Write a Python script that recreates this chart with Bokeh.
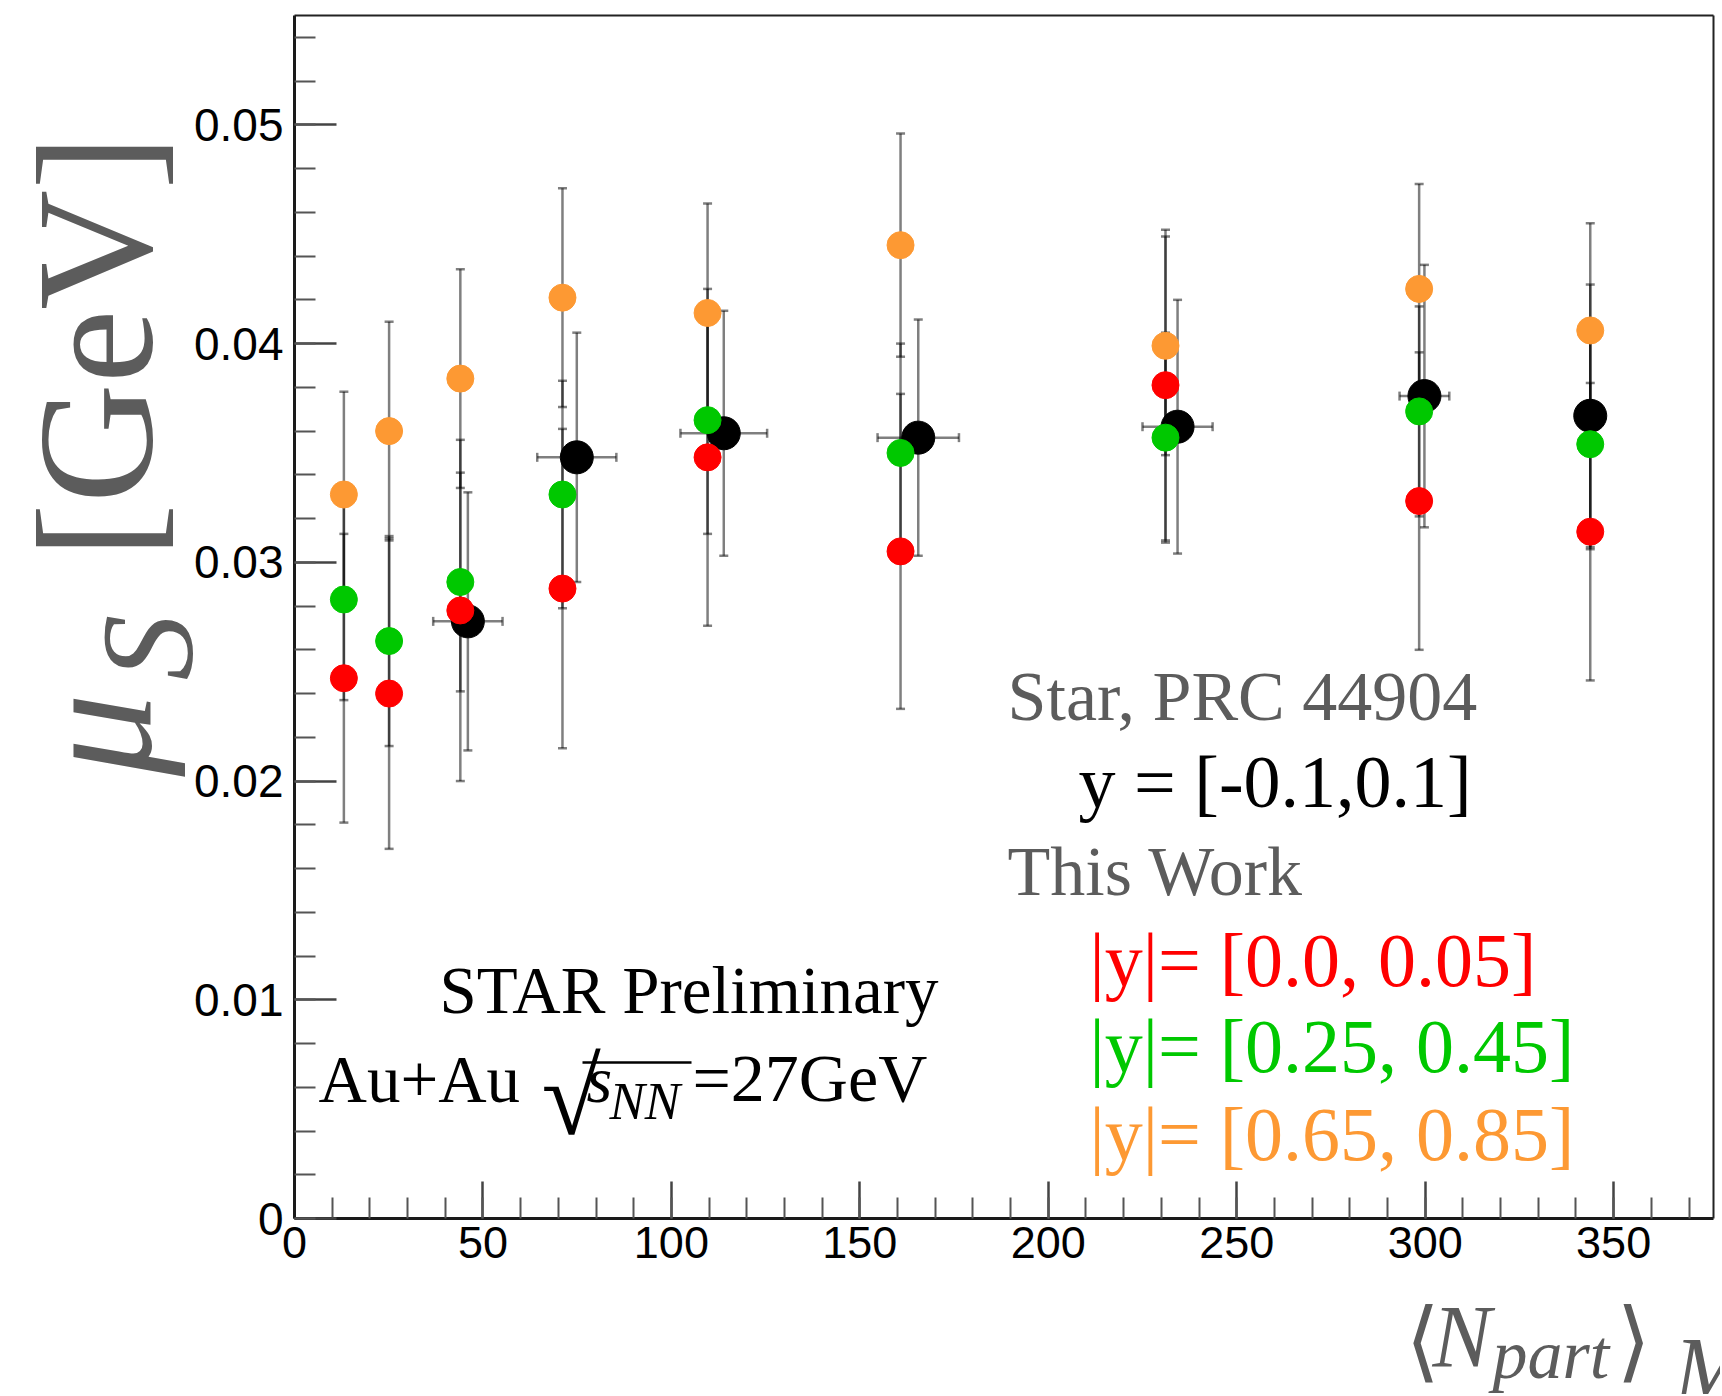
import numpy as np
from bokeh.plotting import figure
from bokeh.models import Range1d, FixedTicker, Whisker, TeeHead, ColumnDataSource, Label, LinearAxis
from bokeh.embed import file_html
from bokeh.resources import INLINE

# ---------------- data ----------------
# STAR, PRC 44904, y = [-0.1, 0.1]
npart_star = [46.0, 74.9, 113.9, 165.5, 234.3, 299.8, 343.8]
npart_star_err = [9.2, 10.5, 11.5, 10.8, 9.3, 6.6, 1.5]
mu_star = [0.0273, 0.0348, 0.0359, 0.0357, 0.0362, 0.0376, 0.0367]
mu_star_err = [0.0059, 0.0057, 0.0056, 0.0054, 0.0058, 0.0060, 0.0060]

# This Work
npart_work = [13.1, 25.1, 44.0, 71.1, 109.6, 160.8, 231.1, 298.4, 343.8]
mu_red = [0.0247, 0.0240, 0.0278, 0.0288, 0.0348, 0.0305, 0.0381, 0.0328, 0.0314]
mu_red_err = [0.0066, 0.0071, 0.0078, 0.0073, 0.0077, 0.0072, 0.0071, 0.0068, 0.0068]
mu_green = [0.0283, 0.0264, 0.0291, 0.0331, 0.0365, 0.0350, 0.0357, 0.0369, 0.0354]
mu_green_err = [0.0046, 0.0048, 0.0050, 0.0052, 0.0052, 0.0050, 0.0048, 0.0048, 0.0048]
mu_orange = [0.0331, 0.0360, 0.0384, 0.0421, 0.0414, 0.0445, 0.0399, 0.0425, 0.0406]
mu_orange_err = [0.0047, 0.0050, 0.0050, 0.0050, 0.0050, 0.0051, 0.0050, 0.0048, 0.0049]

x_ticks = [0, 50, 100, 150, 200, 250, 300, 350]
x_tick_labels = ["0", "50", "100", "150", "200", "250", "300", "350"]
y_ticks = [0, 0.01, 0.02, 0.03, 0.04, 0.05]
y_tick_labels = ["0", "0.01", "0.02", "0.03", "0.04", "0.05"]

series_labels = ["|y|= [0.0, 0.05]", "|y|= [0.25, 0.45]", "|y|= [0.65, 0.85]"]

# ---------------- style / geometry ----------------
RED, GREEN, ORANGE = "#ff0000", "#00c800", "#fd9933"
GRAY_TXT = "#5c5c5c"
W, H = 1720, 1394                          # canvas (page) size
FL, FR, FT, FB = 294, 1713, 15, 1218      # axis box edges in page pixels
X_MAX, Y_MAX = 376.5, 0.055


def dx(px):
    return (px - FL) / (FR - FL) * X_MAX


def dy(py):
    return (FB - py) / (FB - FT) * Y_MAX


p = figure(frame_width=W, frame_height=H,
           x_range=Range1d(dx(0), dx(W)), y_range=Range1d(dy(H), dy(0)),
           output_backend="svg", toolbar_location=None, min_border=0)
p.background_fill_color = "white"
p.border_fill_color = "white"
p.outline_line_color = None
p.xgrid.visible = False
p.ygrid.visible = False

xa = p.xaxis[0]
ya = p.yaxis[0]
xa.fixed_location = 0
ya.fixed_location = 0
xa.bounds = (0, X_MAX)
ya.bounds = (0, Y_MAX)
xa.ticker = FixedTicker(ticks=x_ticks, minor_ticks=list(range(0, 380, 10)))
xa.major_label_overrides = dict(zip(x_ticks, x_tick_labels))
ya.ticker = FixedTicker(ticks=y_ticks, minor_ticks=[round(0.002 * k, 3) for k in range(28)])
ya.major_label_overrides = dict(zip(y_ticks, y_tick_labels))

for ax in (xa, ya):
    ax.axis_line_width = 3
    ax.axis_line_color = "#1a1a1a"
    ax.major_tick_out = 0
    ax.minor_tick_out = 0
    ax.major_tick_line_color = "#444444"
    ax.major_tick_line_width = 2.5
    ax.minor_tick_line_color = "#555555"
    ax.minor_tick_line_width = 2
    ax.major_label_text_font = "Liberation Sans"
    ax.major_label_text_color = "black"
xa.major_label_text_font_size = "45px"
ya.major_label_text_font_size = "46px"
ya.major_tick_in = 42
ya.minor_tick_in = 21
xa.major_tick_in = 37
xa.minor_tick_in = 21
xa.major_label_standoff = 8
ya.major_label_standoff = 11

# top and right edges of the box (axes without ticks)
top_ax = LinearAxis(fixed_location=Y_MAX, bounds=(0, X_MAX), ticker=FixedTicker(ticks=[]),
                    axis_line_width=2, axis_line_color="#222222")
right_ax = LinearAxis(fixed_location=X_MAX, bounds=(0, Y_MAX), ticker=FixedTicker(ticks=[]),
                      axis_line_width=2, axis_line_color="#222222")
p.add_layout(top_ax, "above")
p.add_layout(right_ax, "right")


def head():
    return TeeHead(size=9, line_color="black", line_alpha=0.5, line_width=2.5)


def add_err(base, center, err, dim):
    c = np.asarray(center, dtype=float)
    e = np.asarray(err, dtype=float)
    src = ColumnDataSource(dict(base=list(base), lower=list(c - e), upper=list(c + e)))
    w = Whisker(source=src, base="base", lower="lower", upper="upper", dimension=dim,
                line_color="black", line_alpha=0.5, line_width=2.5,
                upper_head=head(), lower_head=head())
    p.add_layout(w)


add_err(npart_star, mu_star, mu_star_err, "height")
add_err(mu_star, npart_star, npart_star_err, "width")
for ys, es in ((mu_red, mu_red_err), (mu_green, mu_green_err), (mu_orange, mu_orange_err)):
    add_err(npart_work, ys, es, "height")

p.scatter(npart_star, mu_star, size=33, fill_color="black", line_color="black")
for ys, col in ((mu_red, RED), (mu_green, GREEN), (mu_orange, ORANGE)):
    p.scatter(npart_work, ys, size=27, fill_color=col, line_color=col)


def lab(text, px, py, size, color, font="Liberation Serif", style="normal", angle=0.0):
    # (px, py): start of the text on its baseline, in page pixels
    if angle:
        px = px - 0.34 * size
    else:
        py = py - 0.34 * size
    p.add_layout(Label(x=dx(px), y=dy(py), text=text, text_font=font,
                       text_font_size=f"{size}px", text_color=color, text_font_style=style,
                       text_align="left", text_baseline="alphabetic", angle=angle))


# legend-like texts
lab("Star, PRC 44904", 1007, 720, 70, GRAY_TXT)
lab("y = [-0.1,0.1]", 1078, 807, 74, "black")
lab("This Work", 1007, 895, 70, GRAY_TXT)
lab(series_labels[0], 1089, 985, 76, RED)
lab(series_labels[1], 1089, 1071, 76, GREEN)
lab(series_labels[2], 1089, 1159, 76, ORANGE)

# STAR Preliminary / system
lab("STAR Preliminary", 439, 1012, 67, "black")
lab("Au+Au", 318, 1101, 67, "black")
lab("\u221a", 541, 1134, 108, "black")
p.line(x=[dx(582), dx(691)], y=[dy(1062), dy(1062)], line_color="black", line_width=2.5)
lab("s", 586, 1101, 66, "black", style="italic")
lab("NN", 609, 1119, 53, "black", style="italic")
lab("=27GeV", 692, 1101, 68, "black")

# y-axis title (rotated)
ang = np.pi / 2
lab("\u03bc", 150, 776, 166, GRAY_TXT, style="italic", angle=ang)
lab("S", 192, 680, 132, GRAY_TXT, style="italic", angle=ang)
lab("[GeV]", 151, 558, 166, GRAY_TXT, angle=ang)

# x-axis title
lab("\u27e8", 1405, 1370, 88, GRAY_TXT, font="DejaVu Sans")
lab("N", 1432, 1366, 88, GRAY_TXT, style="italic")
lab("part", 1492, 1378, 70, GRAY_TXT, style="italic")
lab("\u27e9", 1616, 1370, 88, GRAY_TXT, font="DejaVu Sans")
lab("M", 1674, 1398, 88, GRAY_TXT, style="italic")

open("out.html", "w").write(file_html(p, INLINE))
